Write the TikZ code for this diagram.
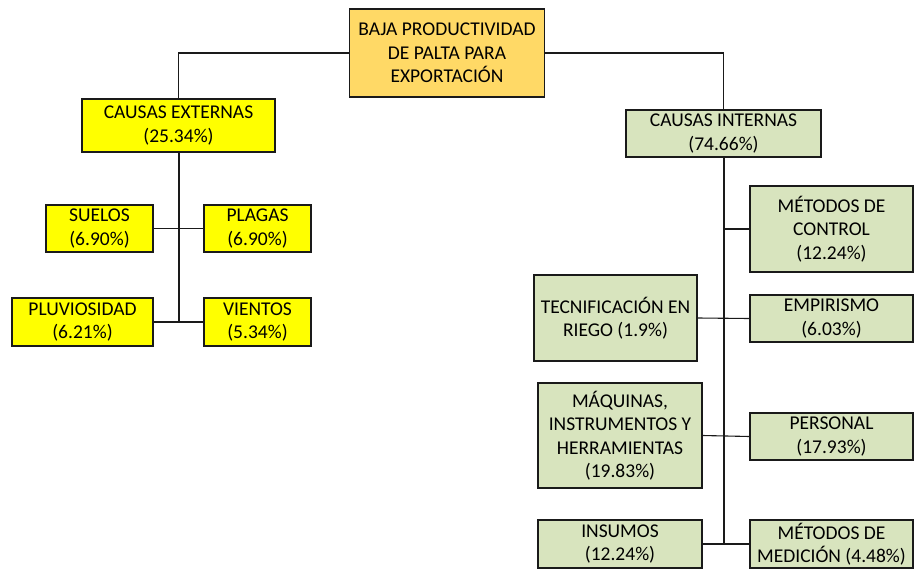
\documentclass[tikz,border=0pt]{standalone}
\usepackage{fontspec}
\setmainfont{Carlito}
\definecolor{rootfill}{HTML}{FFD966}
\definecolor{extfill}{HTML}{FFFF00}
\definecolor{intfill}{HTML}{D8E4BE}
\definecolor{edge}{HTML}{1A1A1A}
\begin{document}
\begin{tikzpicture}[x=1pt,y=-1pt,
  cbox/.style={draw=edge,line width=1.2pt,rectangle,align=center,inner sep=0pt,
    font=\fontsize{19.5}{23.5}\selectfont},
  rootbox/.style={cbox,fill=rootfill},
  extbox/.style={cbox,fill=extfill},
  intbox/.style={cbox,fill=intfill},
  link/.style={draw=edge,line width=1.1pt},
  trunk/.style={draw=edge,line width=2pt}]
\useasboundingbox (0,0) rectangle (918,570);

% root
\node[rootbox,minimum width=195pt,minimum height=88pt] (root) at (447,53)
  {BAJA PRODUCTIVIDAD\\DE PALTA PARA\\EXPORTACIÓN};

% external causes
\node[extbox,minimum width=193pt,minimum height=53pt] (ext) at (178.5,125.5)
  {CAUSAS EXTERNAS\\(25.34\%)};
\node[extbox,minimum width=107pt,minimum height=47pt] (suelos) at (99.5,228.5)
  {SUELOS\\(6.90\%)};
\node[extbox,minimum width=107pt,minimum height=47pt] (plagas) at (257.5,228.5)
  {PLAGAS\\(6.90\%)};
\node[extbox,minimum width=141pt,minimum height=48pt] (pluv) at (82.5,322)
  {PLUVIOSIDAD\\(6.21\%)};
\node[extbox,minimum width=107pt,minimum height=48pt] (vientos) at (257.5,322)
  {VIENTOS\\(5.34\%)};

% internal causes
\node[intbox,minimum width=195pt,minimum height=47pt] (int) at (723.5,133.5)
  {CAUSAS INTERNAS\\(74.66\%)};
\node[intbox,minimum width=163pt,minimum height=86pt] (control) at (831.5,229)
  {MÉTODOS DE\\CONTROL\\(12.24\%)};
\node[intbox,minimum width=163pt,minimum height=86pt] (tecn) at (615.5,318)
  {TECNIFICACIÓN EN\\RIEGO (1.9\%)};
\node[intbox,minimum width=163pt,minimum height=47pt] (empir) at (831.5,318.5)
  {EMPIRISMO\\(6.03\%)};
\node[intbox,minimum width=164pt,minimum height=105pt] (maq) at (620,435.5)
  {MÁQUINAS,\\INSTRUMENTOS Y\\HERRAMIENTAS\\(19.83\%)};
\node[intbox,minimum width=163pt,minimum height=47pt] (pers) at (831.5,436.5)
  {PERSONAL\\(17.93\%)};
\node[intbox,minimum width=164pt,minimum height=48pt] (insumos) at (620,544)
  {INSUMOS\\(12.24\%)};
\node[intbox,minimum width=163pt,minimum height=48pt] (medic) at (831.5,544)
  {MÉTODOS DE\\MEDICIÓN (4.48\%)};

% connectors from the root
\draw[link] (root.west) -| (ext.north);
\draw[link] (root.east) -| (int.north);

% external trunk and branches
\draw[trunk] (ext.south) -- (ext.south |- pluv.east);
\draw[link] (suelos.east) -- (plagas.west);
\draw[link] (pluv.east) -- (vientos.west);

% internal trunk and branches
\draw[trunk] (int.south) -- (int.south |- medic.west);
\draw[link] (control.west) -- (control.west -| int.south);
\draw[link] (tecn.east) -- (empir.west);
\draw[link] (maq.east) -- (pers.west);
\draw[link] (insumos.east) -- (medic.west);
\end{tikzpicture}
\end{document}
